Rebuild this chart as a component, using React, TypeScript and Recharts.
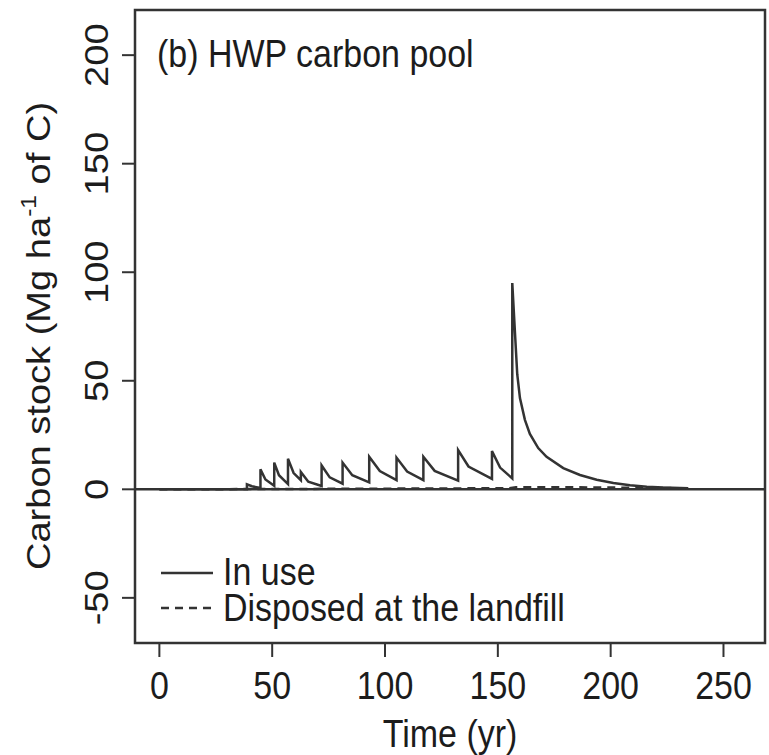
import { LineChart, Line, XAxis, YAxis, ReferenceLine } from "recharts";

// In use: years and carbon stock (Mg/ha of C)
const IN_USE_T = [
  0, 38.8, 38.8, 41, 44.8, 44.8, 47, 50.9, 50.9, 53, 57, 57, 59.5, 62.7, 62.7, 66, 71.9, 71.9, 75.5,
  81.2, 81.2, 85.5, 93, 93, 97.7, 105.1, 105.1, 109.8, 117, 117, 122, 132.4, 132.4, 137, 147.4, 147.4,
  151, 156.4, 156.4, 157.6, 158.6, 159.8, 162, 164.2, 167.9, 171.6, 179, 186.4, 193.8, 201.2, 208.6,
  216, 223.3, 234.4,
];
const IN_USE_C = [
  0, 0, 2.3, 1.4, 0.6, 9.2, 4.5, 1.6, 12.3, 6.5, 2.4, 14.1, 7.5, 4.2, 8.0, 3.5, 1.5, 11.0, 5.5, 2.6,
  12.3, 6.5, 3.2, 15.0, 8.4, 4.2, 14.6, 8.2, 4.2, 15.0, 8.5, 4.0, 18.1, 10.5, 4.8, 17.6, 10, 5.0, 95,
  72, 53, 42, 32, 25.5, 19, 15, 9.8, 6.6, 4.4, 2.9, 1.9, 1.2, 0.8, 0.5,
];

// Disposed at the landfill
const LANDFILL_T = [0, 40, 100, 155, 158, 175, 200, 234.4];
const LANDFILL_C = [0, 0.1, 0.3, 0.5, 1.0, 1.0, 0.8, 0.5];

const X_TICKS = [0, 50, 100, 150, 200, 250];
const Y_TICKS = [-50, 0, 50, 100, 150, 200];

const inUse = IN_USE_T.map((t, i) => ({ t, c: IN_USE_C[i] }));
const landfill = LANDFILL_T.map((t, i) => ({ t, c: LANDFILL_C[i] }));

const FONT = '"Liberation Sans", Arial, Helvetica, sans-serif';
const INK = "#1c1c1c";
const LINE = "#333333";
const FS = 34;
// the source figure is a bit taller than wide, so glyphs are stretched vertically
const SY = 1.12;

const XTick = ({ x, y, payload }: any) => (
  <text
    transform={`translate(${x},${y + 24}) scale(1,${SY})`}
    textAnchor="middle"
    fontSize={FS}
    fontFamily={FONT}
    fill={INK}
  >
    {payload.value}
  </text>
);

const YTick = ({ x, y, payload }: any) => (
  <text
    transform={`translate(${x},${y}) rotate(-90) scale(${SY},1)`}
    textAnchor="middle"
    fontSize={FS}
    fontFamily={FONT}
    fill={INK}
  >
    {payload.value}
  </text>
);

const HText = ({ x, y, children, anchor = "start" }: any) => (
  <text transform={`translate(${x},${y}) scale(1,${SY})`} textAnchor={anchor} fontSize={FS}>
    {children}
  </text>
);

export default function App() {
  return (
    <div style={{ position: "relative", width: 769, height: 755, fontFamily: FONT }}>
      <style>{`body{margin:0;background:#fff}`}</style>
      <LineChart width={769} height={755} margin={{ top: 10, right: 4, bottom: 0, left: 0 }}>
        <XAxis
          dataKey="t"
          type="number"
          domain={[-10.8, 268.4]}
          ticks={X_TICKS}
          allowDataOverflow
          height={112}
          axisLine={false}
          tickSize={14}
          tickMargin={18}
          tickLine={{ stroke: LINE, strokeWidth: 2 }}
          tick={<XTick />}
        />
        <YAxis
          type="number"
          domain={[-70.8, 220.8]}
          ticks={Y_TICKS}
          allowDataOverflow
          width={135}
          axisLine={false}
          tickSize={13}
          tickMargin={14}
          tickLine={{ stroke: LINE, strokeWidth: 2 }}
          tick={<YTick />}
        />
        <ReferenceLine y={0} stroke={LINE} strokeWidth={2.5} />
        <Line
          data={landfill}
          dataKey="c"
          type="linear"
          stroke={LINE}
          strokeWidth={2.5}
          strokeDasharray="8 6"
          dot={false}
          isAnimationActive={false}
        />
        <Line
          data={inUse}
          dataKey="c"
          type="linear"
          stroke={LINE}
          strokeWidth={2.5}
          dot={false}
          isAnimationActive={false}
        />
      </LineChart>
      <svg
        width={769}
        height={755}
        style={{ position: "absolute", left: 0, top: 0, pointerEvents: "none" }}
        fontFamily={FONT}
        fill={INK}
      >
        <rect x={135} y={10} width={630} height={633} fill="none" stroke={LINE} strokeWidth={2.5} />
        <HText x={157} y={67}>(b) HWP carbon pool</HText>
        <line x1={161} x2={213} y1={573} y2={573} stroke={LINE} strokeWidth={2.5} />
        <line x1={161} x2={213} y1={608} y2={608} stroke={LINE} strokeWidth={2.5} strokeDasharray="8 6" />
        <HText x={223} y={585}>In use</HText>
        <HText x={223} y={621}>Disposed at the landfill</HText>
        <HText x={450} y={747} anchor="middle">Time (yr)</HText>
        <text
          transform={`translate(50,336) rotate(-90) scale(${SY},1)`}
          fontSize={FS}
          textAnchor="middle"
        >
          Carbon stock (Mg ha
          <tspan fontSize={22} dy={-14}>-1</tspan>
          <tspan dy={14}> of C)</tspan>
        </text>
      </svg>
    </div>
  );
}
